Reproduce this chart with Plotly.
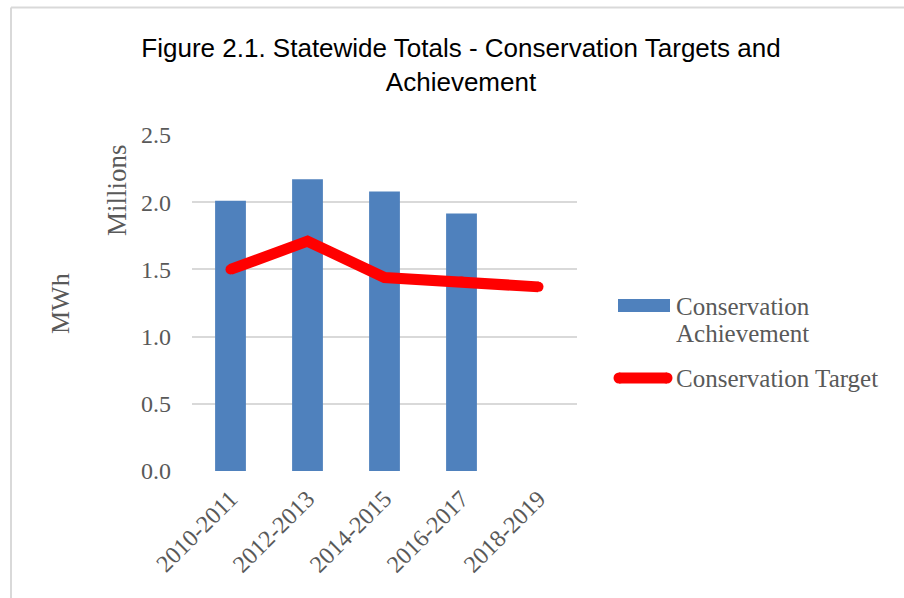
import plotly.graph_objects as go

# Biennium periods and statewide totals (millions of MWh)
periods = ["2010-2011", "2012-2013", "2014-2015", "2016-2017", "2018-2019"]
achievement = [2.01, 2.17, 2.08, 1.915, None]
target = [1.50, 1.71, 1.44, 1.41, 1.37]

W, H = 904, 598
L, R, T, B = 192, 577, 135, 471  # plot area in pixels

def px(x):
    return (x - L) / (R - L)

def py(y):
    return (B - y) / (B - T)

SERIF = "Liberation Serif"
GRAY_TXT = "#595959"
GRID = "#d9d9d9"
BLUE = "#4F81BD"
RED = "#FF0000"

fig = go.Figure()
fig.add_trace(go.Bar(
    x=periods, y=achievement, name="Conservation Achievement",
    marker=dict(color=BLUE, line=dict(width=0)),
))
fig.add_trace(go.Scatter(
    x=periods, y=target, name="Conservation Target", mode="lines+markers",
    line=dict(color=RED, width=11),
    marker=dict(color=RED, size=10, line=dict(width=0)),
))

shapes = [
    # outer frame edges
    dict(type="line", xref="paper", yref="paper", x0=px(11), x1=px(11), y0=py(7.5), y1=py(H),
         line=dict(color=GRID, width=2)),
    dict(type="line", xref="paper", yref="paper", x0=px(11), x1=px(W), y0=py(7.5), y1=py(7.5),
         line=dict(color=GRID, width=2)),
    # legend keys
    dict(type="rect", xref="paper", yref="paper", x0=px(618), x1=px(670), y0=py(312), y1=py(299),
         fillcolor=BLUE, line=dict(width=0)),
    dict(type="line", xref="paper", yref="paper", x0=px(619), x1=px(667), y0=py(378), y1=py(378),
         line=dict(color=RED, width=11)),
]
# rounded ends of the legend line key
for cx in (619, 667):
    shapes.append(dict(type="circle", xref="paper", yref="paper",
                       x0=px(cx - 5.5), x1=px(cx + 5.5), y0=py(378 + 5.5), y1=py(378 - 5.5),
                       fillcolor=RED, line=dict(width=0)))

def label(text, x, y, size, xanchor="left", angle=0, color=GRAY_TXT):
    return dict(text=text, xref="paper", yref="paper", x=px(x), y=py(y), xanchor=xanchor,
                yanchor="middle", showarrow=False, textangle=angle,
                font=dict(family=SERIF, size=size, color=color))

annotations = [
    label("Conservation", 674, 306, 25),
    label("Achievement", 674, 333, 25),
    label("Conservation Target", 674, 378, 25),
    label("Millions", 117, 190, 27, xanchor="center", angle=-90),
    label("MWh", 60, 304, 26, xanchor="center", angle=-90),
]

fig.update_layout(
    width=W, height=H,
    margin=dict(l=L, r=W - R, t=T, b=H - B),
    paper_bgcolor="white", plot_bgcolor="white",
    showlegend=False,
    bargap=0.6,
    title=dict(
        text="Figure 2.1. Statewide Totals - Conservation Targets and<br>Achievement",
        xref="container", yref="container", x=461 / W, y=1 - 57 / H,
        xanchor="center", yanchor="middle",
        font=dict(family="Liberation Sans Narrow, Arial Narrow, Liberation Sans", size=26, color="#000000"),
    ),
    xaxis=dict(
        tickangle=-45, showgrid=False, showline=False, zeroline=False, ticks="",
        ticklabelstandoff=8,
        tickfont=dict(family=SERIF, size=24, color=GRAY_TXT),
    ),
    yaxis=dict(
        range=[0, 2.5], dtick=0.5, tickformat=".1f",
        showgrid=True, gridcolor=GRID, gridwidth=1.5, zeroline=False, showline=False,
        ticks="", ticklabelstandoff=20,
        tickfont=dict(family=SERIF, size=24, color=GRAY_TXT),
    ),
    shapes=shapes,
    annotations=annotations,
)

fig.write_html("out.html")
